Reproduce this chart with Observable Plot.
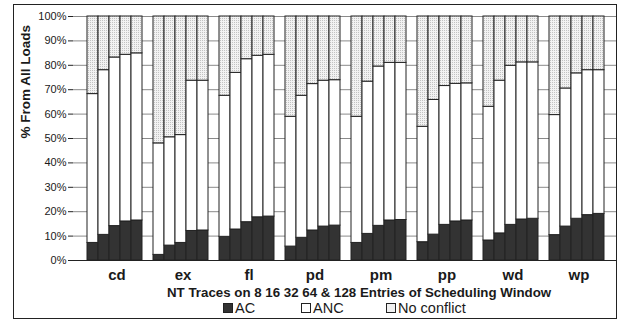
<!DOCTYPE html>
<html>
<head>
<meta charset="utf-8">
<script src="https://cdn.jsdelivr.net/npm/d3@7"></script>
<script src="https://cdn.jsdelivr.net/npm/@observablehq/plot@0.6"></script>
<style>
  html, body { margin: 0; padding: 0; background: #fff; }
  #wrap { position: relative; width: 618px; height: 320px; overflow: hidden;
          font-family: "Liberation Sans", Arial, sans-serif; color: #1a1a1a; }
  #chart svg { display: block; }
  #border { position: absolute; left: 13px; top: 4px; width: 604px; height: 315px;
            border: 1.5px solid #222; box-sizing: border-box; pointer-events: none; }
  #xtitle { position: absolute; left: 167px; top: 285px; font-weight: bold; font-size: 13.3px;
            line-height: 16px; white-space: nowrap; }
  .item { position: absolute; top: 300px; font-size: 14.5px; line-height: 16px; white-space: nowrap; }
  .sw { display: inline-block; width: 8px; height: 8px; border: 1px solid #222; margin-right: 2px;
        vertical-align: 0px; }
</style>
</head>
<body>
<div id="wrap">
  <div id="chart"></div>
  <div id="xtitle">NT Traces on 8 16 32 64 &amp; 128 Entries of Scheduling Window</div>
  <div class="item" style="left:223px"><span class="sw" style="background:#333"></span>AC</div>
  <div class="item" style="left:301px"><span class="sw" style="background:#fff"></span>ANC</div>
  <div class="item" style="left:386px"><span class="sw" style="background-color:#f0f0f0;background-image:radial-gradient(#bbb 0.6px, transparent 0.7px);background-size:2px 2px"></span>No conflict</div>
  <div id="border"></div>
</div>
<script>
// NT traces and scheduling-window sizes
const traces = ["cd", "ex", "fl", "pd", "pm", "pp", "wd", "wp"];
const windowSizes = [8, 16, 32, 64, 128];
const series = ["AC", "ANC", "No conflict"];
const yTicks = [0, 10, 20, 30, 40, 50, 60, 70, 80, 90, 100];

// Share of all loads (%), five window sizes per trace, traces in order
const acShare = [
  7.2, 10.5, 14.1, 16.0, 16.4,
  2.3, 6.1, 7.2, 12.1, 12.3,
  9.7, 12.7, 15.7, 17.7, 18.0,
  5.7, 9.3, 12.3, 13.9, 14.3,
  7.2, 10.9, 14.2, 16.4, 16.6,
  7.5, 10.6, 14.6, 16.0, 16.4,
  8.2, 11.1, 14.6, 16.8, 17.1,
  10.4, 13.9, 17.1, 18.6, 19.1
];
const ancShare = [
  61.0, 67.5, 69.1, 68.3, 68.5,
  45.7, 44.4, 44.2, 61.6, 61.4,
  57.8, 64.2, 66.8, 66.2, 66.3,
  53.2, 58.2, 60.0, 59.8, 59.6,
  51.7, 62.4, 65.3, 64.6, 64.4,
  47.3, 55.2, 56.9, 56.4, 56.2,
  54.8, 62.6, 65.2, 64.4, 64.1,
  49.2, 56.6, 59.6, 59.4, 58.9
];
const noConflictShare = [
  31.8, 22.0, 16.8, 15.7, 15.1,
  52.0, 49.5, 48.6, 26.3, 26.3,
  32.5, 23.1, 17.5, 16.1, 15.7,
  41.1, 32.5, 27.7, 26.3, 26.1,
  41.1, 26.7, 20.5, 19.0, 19.0,
  45.2, 34.2, 28.5, 27.6, 27.4,
  37.0, 26.3, 20.2, 18.8, 18.8,
  40.4, 29.5, 23.3, 22.0, 22.0
];

// One band per bar, plus an empty band between traces
const slots = [];
traces.forEach((t, i) => {
  windowSizes.forEach(w => slots.push(`${t}|${w}`));
  if (i < traces.length - 1) slots.push(`${t}|gap`);
});

const rows = [];
traces.forEach((t, i) => {
  windowSizes.forEach((w, j) => {
    const k = i * windowSizes.length + j;
    const slot = `${t}|${w}`;
    rows.push({slot, series: "AC", value: acShare[k]});
    rows.push({slot, series: "ANC", value: ancShare[k]});
    rows.push({slot, series: "No conflict", value: noConflictShare[k]});
  });
});

const chart = Plot.plot({
  width: 618,
  height: 285,
  marginLeft: 73,
  marginRight: 1,
  marginTop: 16,
  marginBottom: 25,
  style: {fontFamily: "Liberation Sans, Arial, sans-serif", color: "#1a1a1a", background: "transparent"},
  x: {type: "band", domain: slots, padding: 0, axis: null},
  y: {domain: [0, 100], axis: null},
  color: {domain: series, range: ["#333333", "#ffffff", "url(#nc-dots)"]},
  marks: [
    Plot.gridY(yTicks, {stroke: "#8a8a8a", strokeOpacity: 1}),
    Plot.axisY(yTicks, {tickSize: 5, tickPadding: 2, tickFormat: d => d + "%", fontSize: 11, label: null, stroke: "#222"}),
    Plot.barY(rows, {x: "slot", y: "value", fill: "series", stroke: "#222", strokeWidth: 1}),
    Plot.ruleY([0], {stroke: "#222"}),
    Plot.text(traces, {x: t => `${t}|32`, text: d => d, frameAnchor: "bottom", dy: 19, dx: 2,
                       fontSize: 15, fontWeight: "bold"}),
    Plot.text(["% From All Loads"], {text: d => d, frameAnchor: "left", rotate: -90, dx: -48,
                                     fontSize: 13.5, fontWeight: "bold"})
  ]
});

// Light stipple pattern for the "No conflict" segments
const defs = d3.select(chart).insert("defs", ":first-child");
const pat = defs.append("pattern").attr("id", "nc-dots").attr("patternUnits", "userSpaceOnUse")
  .attr("width", 2).attr("height", 2);
pat.append("rect").attr("width", 2).attr("height", 2).attr("fill", "#f2f2f2");
pat.append("rect").attr("width", 1).attr("height", 1).attr("fill", "#c2c2c2");

document.getElementById("chart").appendChild(chart);
</script>
</body>
</html>
